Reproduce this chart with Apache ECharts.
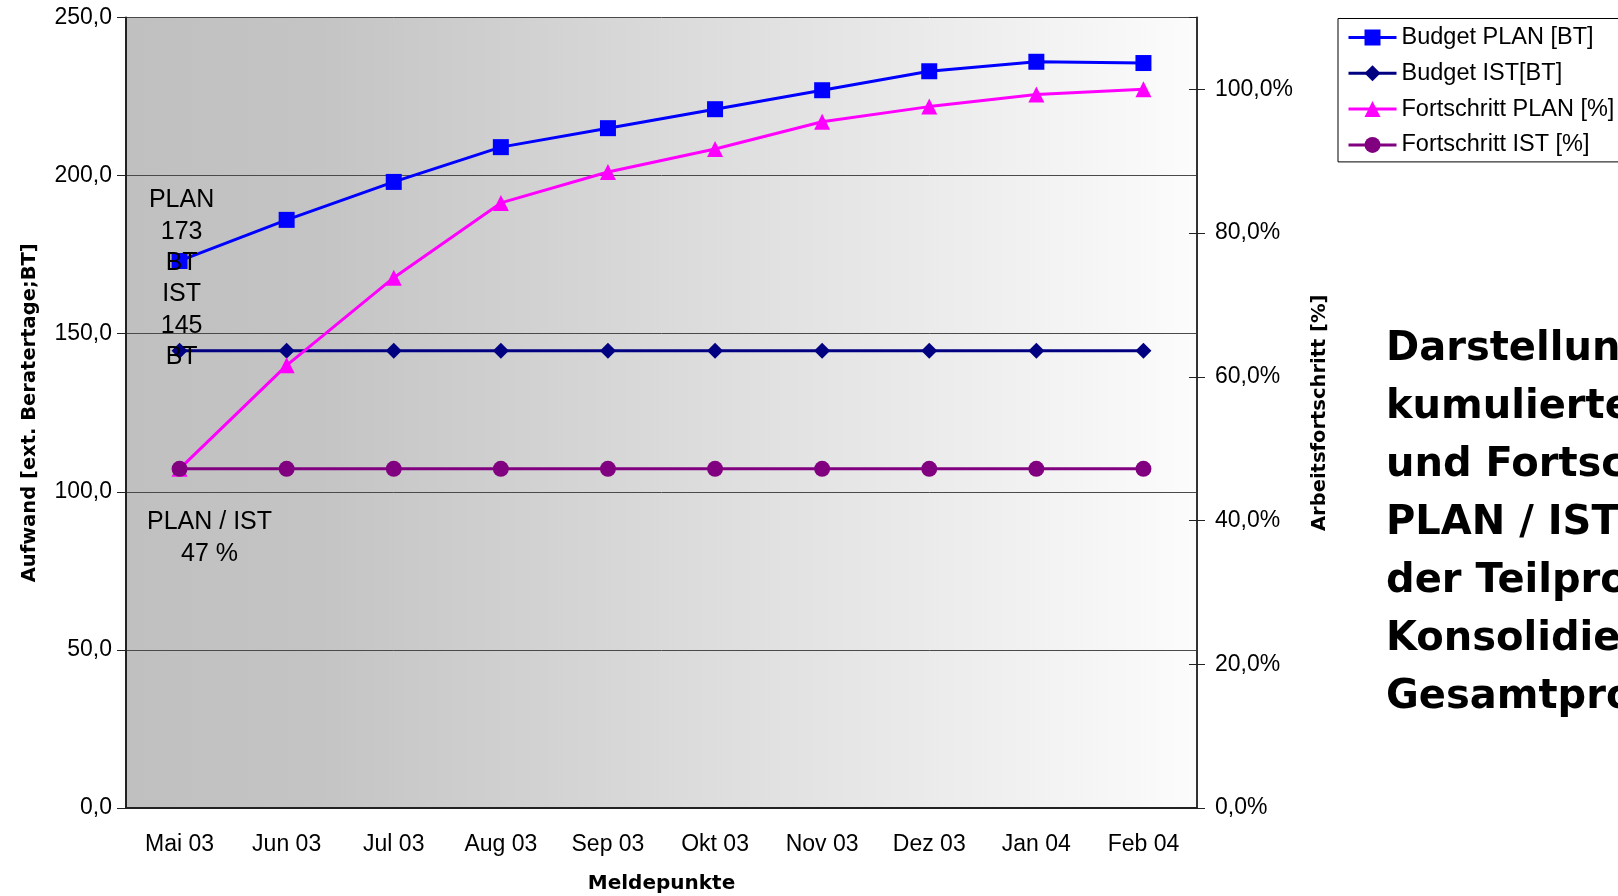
<!DOCTYPE html>
<html>
<head>
<meta charset="utf-8">
<script src="https://cdn.jsdelivr.net/npm/echarts@6/dist/echarts.min.js"></script>
<style>
  html, body { margin: 0; padding: 0; background: #fff; }
  #chart { width: 1618px; height: 896px; }
</style>
</head>
<body>
<div id="chart"></div>
<script>
const months = ['Mai 03', 'Jun 03', 'Jul 03', 'Aug 03', 'Sep 03', 'Okt 03', 'Nov 03', 'Dez 03', 'Jan 04', 'Feb 04']
const budgetPlan = [173, 186, 198, 209, 215, 221, 227, 233, 236, 235.6]
const budgetIst = [144.6, 144.6, 144.6, 144.6, 144.6, 144.6, 144.6, 144.6, 144.6, 144.6]
const progressPlan = [47.2, 61.6, 73.8, 84.2, 88.5, 91.7, 95.5, 97.6, 99.3, 100]
const progressIst = [47.2, 47.2, 47.2, 47.2, 47.2, 47.2, 47.2, 47.2, 47.2, 47.2]
const budgetNote = ['PLAN', '173', 'BT', 'IST', '145', 'BT']
const ratioNote = ['PLAN / IST', '47 %']
const titleLines = ['Darstellung der', 'kumulierten', 'und Fortschritt', 'PLAN / IST', 'der Teilprojekte', 'Konsolidierung', 'Gesamtprojekt']

const chart = echarts.init(document.getElementById('chart'))

const tickFont = { fontFamily: 'Liberation Sans', fontSize: 23, color: '#000' }
const nameFont = { fontFamily: 'DejaVu Sans', fontWeight: 'bold', fontSize: 19.5, color: '#000' }
const comma = (v) => v.toFixed(1).replace('.', ',')

function lineSeries(name, data, color, symbol, yIdx) {
  return {
    name, type: 'line', data, yAxisIndex: yIdx,
    symbol, symbolSize: 16,
    lineStyle: { color, width: 3 },
    itemStyle: { color },
    animation: false
  }
}

// centred text lines for the notes inside the plot
function noteLines(lines, cx, y0, step) {
  return lines.map((t, i) => ({
    type: 'text', z: 100, x: cx, y: y0 + i * step,
    style: {
      text: t, align: 'center', verticalAlign: 'middle',
      fontFamily: 'Liberation Sans', fontSize: 25, fill: '#000'
    }
  }))
}

chart.setOption({
  backgroundColor: '#fff',
  animation: false,
  grid: {
    left: 126, right: 421, top: 17.5, bottom: 88,
    outerBoundsMode: 'none',
    show: true,
    borderWidth: 0,
    backgroundColor: {
      type: 'linear', x: 0, y: 0, x2: 1, y2: 0,
      colorStops: [
        { offset: 0, color: '#c0c0c0' },
        { offset: 0.18, color: '#c4c4c4' },
        { offset: 1, color: '#fcfcfc' }
      ]
    }
  },
  legend: {
    orient: 'vertical',
    left: 1338, top: 18.5,
    padding: [7, 90, 5, 9],
    itemWidth: 48, itemHeight: 20, itemGap: 11.8,
    borderColor: '#000', borderWidth: 1,
    lineStyle: { width: 3 },
    textStyle: { fontFamily: 'Liberation Sans', fontSize: 23.5, color: '#000', lineHeight: 24 },
    data: ['Budget PLAN [BT]', 'Budget IST[BT]', 'Fortschritt PLAN [%]', 'Fortschritt IST [%]']
  },
  xAxis: {
    type: 'category',
    data: months,
    boundaryGap: true,
    axisLine: { lineStyle: { color: '#222', width: 2 } },
    axisTick: { length: 8, lineStyle: { color: '#222' } },
    axisLabel: { ...tickFont, margin: 25 },
    name: 'Meldepunkte',
    nameLocation: 'middle',
    nameGap: 66,
    nameTextStyle: { ...nameFont, fontSize: 20 }
  },
  yAxis: [
    {
      type: 'value', min: 0, max: 250, interval: 50,
      position: 'left',
      axisLine: { show: true, lineStyle: { color: '#222', width: 2 } },
      axisTick: { show: true, length: 9, lineStyle: { color: '#222' } },
      axisLabel: { ...tickFont, margin: 14, formatter: comma },
      splitLine: { show: true, lineStyle: { color: '#4a4a4a', width: 1 } },
      name: 'Aufwand [ext. Beratertage;BT]',
      nameLocation: 'middle',
      nameRotate: 90,
      nameGap: 86,
      nameTextStyle: nameFont
    },
    {
      type: 'value', min: 0, max: 110, interval: 20,
      position: 'right',
      axisLine: { show: true, lineStyle: { color: '#333', width: 2 } },
      axisTick: { show: true, length: 8, lineStyle: { color: '#222' } },
      axisLabel: { ...tickFont, margin: 18, showMaxLabel: false, formatter: (v) => comma(v) + '%' },
      splitLine: { show: false },
      name: 'Arbeitsfortschritt [%]',
      nameLocation: 'middle',
      nameRotate: 90,
      nameGap: 113,
      nameTextStyle: nameFont
    },
    {
      // inner half of the crossing ticks on the right axis
      type: 'value', min: 0, max: 110, interval: 20,
      position: 'right',
      axisLine: { show: false },
      axisTick: { show: true, inside: true, length: 8, lineStyle: { color: '#222' } },
      axisLabel: { show: false },
      splitLine: { show: false }
    }
  ],
  series: [
    lineSeries('Budget PLAN [BT]', budgetPlan, '#0000ff', 'rect', 0),
    lineSeries('Budget IST[BT]', budgetIst, '#000080', 'diamond', 0),
    lineSeries('Fortschritt PLAN [%]', progressPlan, '#ff00ff', 'triangle', 1),
    lineSeries('Fortschritt IST [%]', progressIst, '#800080', 'circle', 1)
  ],
  graphic: [
    ...noteLines(budgetNote, 181.6, 200.5, 31.3),
    ...noteLines(ratioNote, 209.5, 522, 32),
    {
      type: 'text', z: 100, left: 1386, top: 320.5,
      style: {
        text: titleLines.join('\n'),
        fontFamily: 'DejaVu Sans', fontWeight: 'bold', fontSize: 40, lineHeight: 58, fill: '#000'
      }
    }
  ]
})
</script>
</body>
</html>
